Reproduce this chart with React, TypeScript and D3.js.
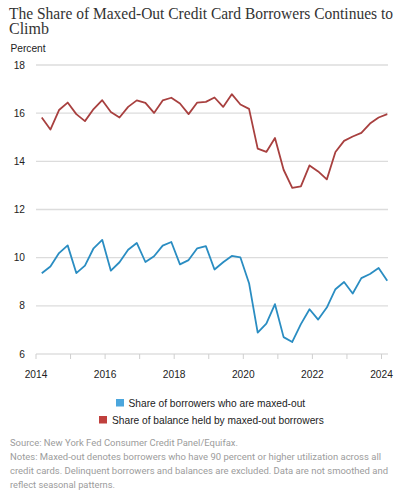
import * as d3 from "d3";

// quarterly observations, 2014Q1 .. 2024Q1
const quarters = d3.range(41).map((i) => `${2014 + Math.floor(i / 4)}Q${(i % 4) + 1}`);

const borrowersShare = [
  9.35, 9.63, 10.19, 10.51, 9.36, 9.67, 10.39, 10.74, 9.46, 9.81, 10.33, 10.61,
  9.82, 10.06, 10.5, 10.65, 9.72, 9.9, 10.39, 10.48, 9.51, 9.81, 10.07, 10.01,
  8.94, 6.89, 7.26, 8.07, 6.7, 6.5, 7.24, 7.86, 7.43, 7.93, 8.69, 8.99, 8.51,
  9.15, 9.32, 9.57, 9.04,
];

const balanceShare = [
  15.82, 15.32, 16.13, 16.44, 15.96, 15.67, 16.17, 16.54, 16.05, 15.82, 16.26,
  16.53, 16.43, 16.01, 16.53, 16.64, 16.4, 15.96, 16.44, 16.47, 16.65, 16.26,
  16.79, 16.36, 16.18, 14.53, 14.39, 14.97, 13.65, 12.9, 12.96, 13.83, 13.58,
  13.25, 14.39, 14.85, 15.03, 15.18, 15.57, 15.82, 15.96,
];

const yTicks = [6, 8, 10, 12, 14, 16, 18];
const yearTicks = d3.range(2014, 2025);
const yearLabels = [2014, 2016, 2018, 2020, 2022, 2024];

const legendItems = [
  { label: "Share of borrowers who are maxed-out", color: "#4ba6dd" },
  { label: "Share of balance held by maxed-out borrowers", color: "#c0403d" },
];

const notes = [
  "Source: New York Fed Consumer Credit Panel/Equifax.",
  "Notes: Maxed-out denotes borrowers who have 90 percent or higher utilization across all",
  "credit cards. Delinquent borrowers and balances are excluded. Data are not smoothed and",
  "reflect seasonal patterns.",
];
const noteWidths = [228, 371, 378, 105];

const SANS = "'Liberation Sans', Arial, sans-serif";
const SERIF = "'Liberation Serif', 'DejaVu Serif', serif";

const toYear = (q: string) => {
  const [y, n] = q.split("Q").map(Number);
  return y + ((n - 1) * 3 + 2) / 12;
};

export default function App() {
  const x = d3.scaleLinear().domain([2014, 2024]).range([36, 381.5]);
  const y = d3.scaleLinear().domain([6, 18]).range([354, 65]);
  const gridRight = 388;

  const line = d3
    .line<number>()
    .x((_, i) => x(toYear(quarters[i])))
    .y((d) => y(d));

  return (
    <svg
      width={404}
      height={500}
      style={{ position: "absolute", left: 0, top: 0, background: "#fff" }}
    >
      <text
        x={9}
        y={18.5}
        fontFamily={SERIF}
        fontSize={16}
        fill="#333"
        textLength={384}
        lengthAdjust="spacingAndGlyphs"
      >
        The Share of Maxed-Out Credit Card Borrowers Continues to
      </text>
      <text x={9} y={34} fontFamily={SERIF} fontSize={16} fill="#333">
        Climb
      </text>

      <text x={10.5} y={52} fontFamily={SANS} fontSize={10.2} fill="#222">
        Percent
      </text>

      {/* gridlines + y labels */}
      {yTicks.map((t) => (
        <g key={t}>
          {t !== 6 && (
            <line
              x1={36}
              x2={gridRight}
              y1={y(t)}
              y2={y(t)}
              stroke="#dcdcdc"
              strokeWidth={1.3}
            />
          )}
          <text
            x={25}
            y={y(t) + 3.6}
            textAnchor="end"
            fontFamily={SANS}
            fontSize={10.2}
            fill="#222"
          >
            {t}
          </text>
        </g>
      ))}

      {/* x axis */}
      <line x1={36} x2={gridRight} y1={y(6)} y2={y(6)} stroke="#cfcfcf" strokeWidth={1.2} />
      {yearTicks.map((yr) => (
        <line
          key={yr}
          x1={x(yr)}
          x2={x(yr)}
          y1={y(6)}
          y2={y(6) + 5}
          stroke="#cfcfcf"
          strokeWidth={1}
        />
      ))}
      {yearLabels.map((yr) => (
        <text
          key={yr}
          x={x(yr)}
          y={378}
          textAnchor="middle"
          fontFamily={SANS}
          fontSize={10.2}
          fill="#222"
        >
          {yr}
        </text>
      ))}

      <path d={line(balanceShare) ?? ""} fill="none" stroke="#a8403f" strokeWidth={1.8} strokeLinejoin="round" />
      <path d={line(borrowersShare) ?? ""} fill="none" stroke="#2a8dc2" strokeWidth={1.8} strokeLinejoin="round" />

      {/* legend */}
      <rect x={116} y={399} width={8} height={7.5} fill={legendItems[0].color} />
      <text x={128.5} y={406.5} fontFamily={SANS} fontSize={10.2} fill="#222">
        {legendItems[0].label}
      </text>
      <rect x={99} y={416} width={8} height={7.5} fill={legendItems[1].color} />
      <text x={112} y={423.5} fontFamily={SANS} fontSize={10.2} fill="#222">
        {legendItems[1].label}
      </text>

      {notes.map((n, i) => (
        <text
          key={i}
          x={10}
          y={445.5 + i * 14}
          fontFamily="Roboto, 'Liberation Sans', sans-serif"
          fontSize={9.6}
          fill="#9c9c9c"
          textLength={noteWidths[i]}
          lengthAdjust="spacingAndGlyphs"
        >
          {n}
        </text>
      ))}
    </svg>
  );
}
